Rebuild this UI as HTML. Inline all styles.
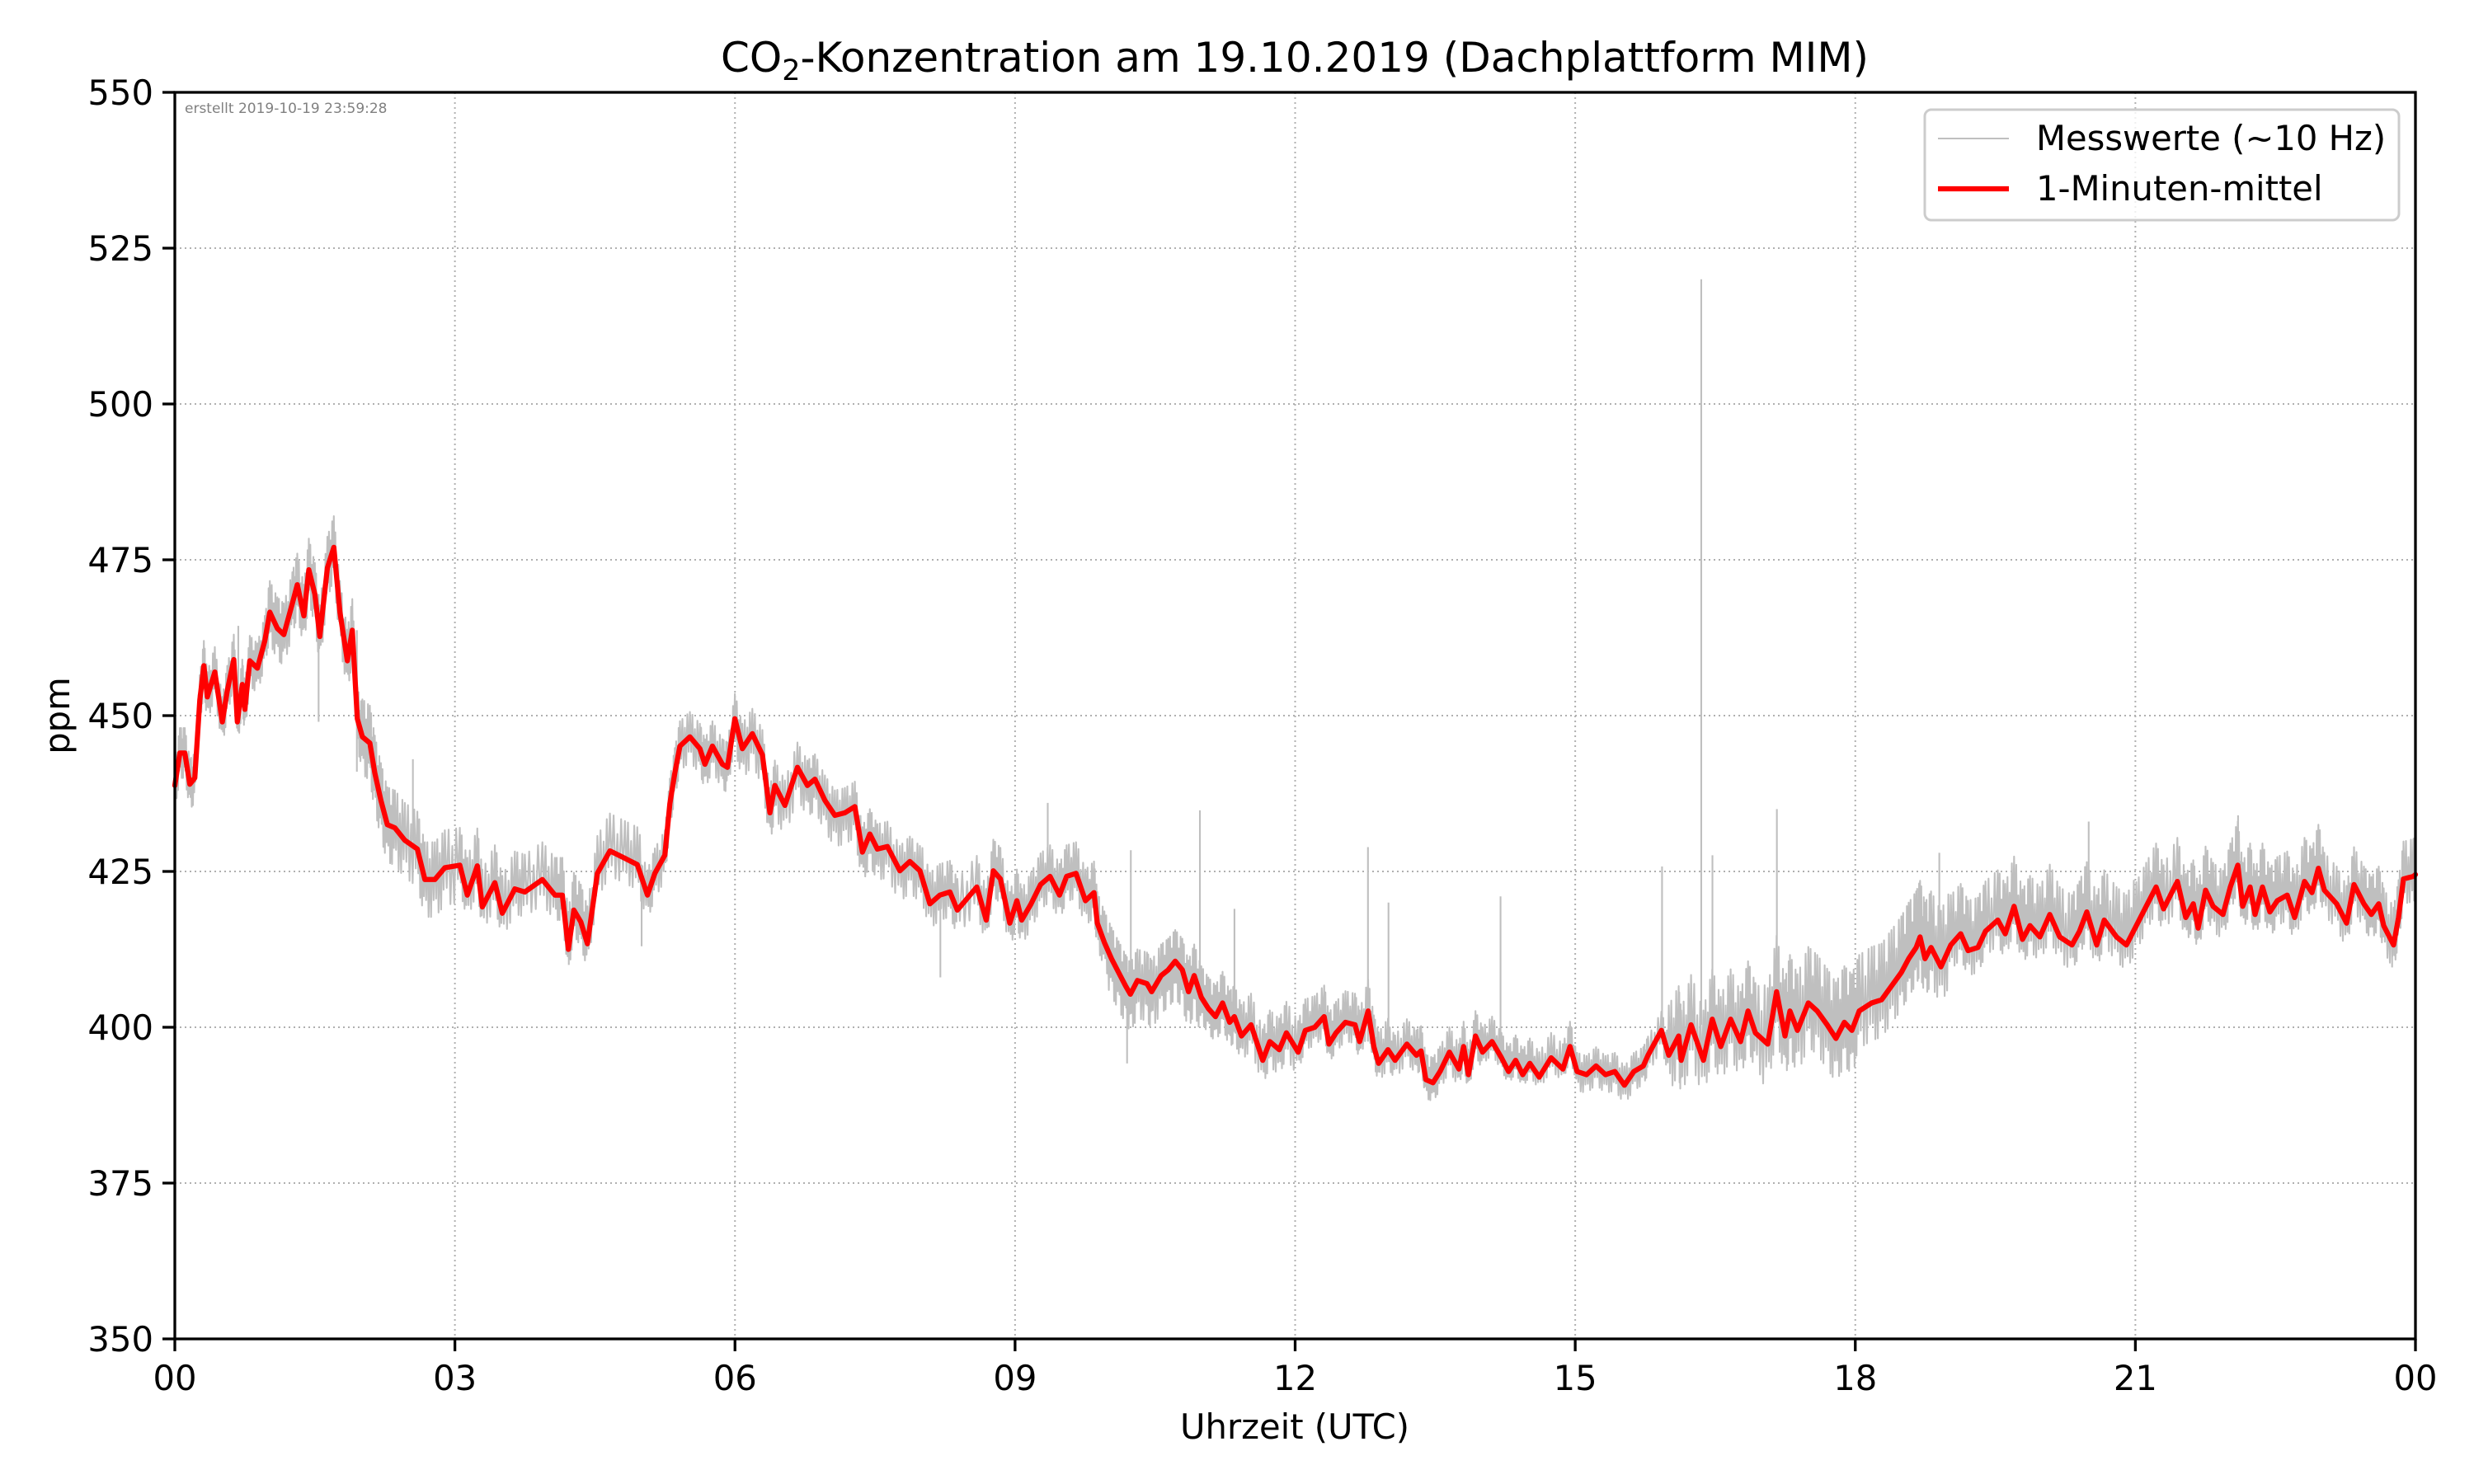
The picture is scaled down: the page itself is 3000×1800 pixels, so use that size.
<!DOCTYPE html>
<html><head><meta charset="utf-8">
<style>
html,body{margin:0;padding:0;background:#fff;}
svg{display:block;font-family:"DejaVu Sans","Liberation Sans",sans-serif;}
</style></head>
<body>
<svg id="chart" width="3000" height="1800" viewBox="0 0 3000 1800" xmlns="http://www.w3.org/2000/svg">
<rect x="0" y="0" width="3000" height="1800" fill="#fff"/>
<g id="grid"></g>
<g id="raw"></g>
<g id="mean"></g>
<g id="axes"></g>
<text x="224" y="137" font-size="17" fill="#808080">erstellt 2019-10-19 23:59:28</text>
<text x="1570" y="87" font-size="50" text-anchor="middle">CO<tspan font-size="35" dy="10">2</tspan><tspan dy="-10">-Konzentration am 19.10.2019 (Dachplattform MIM)</tspan></text>
<text x="1570" y="1745" font-size="41.7" text-anchor="middle">Uhrzeit (UTC)</text>
<text x="84" y="868" font-size="41.7" text-anchor="middle" transform="rotate(-90 84 868)">ppm</text>
<g>
<rect x="2334" y="133" width="575" height="134" rx="8" fill="#fff" fill-opacity="0.8" stroke="#cccccc" stroke-width="3"/>
<line x1="2350" y1="168" x2="2436" y2="168" stroke="#bfbfbf" stroke-width="2.1"/>
<text x="2469" y="182" font-size="41.7">Messwerte (~10 Hz)</text>
<line x1="2350" y1="229" x2="2436" y2="229" stroke="#ff0000" stroke-width="6.25"/>
<text x="2469" y="243" font-size="41.7">1-Minuten-mittel</text>
</g>
</svg>
<script>
const hours=[0,0.054,0.107,0.161,0.214,0.268,0.311,0.348,0.428,0.509,0.562,0.632,0.670,0.723,0.750,0.803,0.884,0.964,1.018,1.098,1.168,1.259,1.312,1.382,1.435,1.500,1.553,1.634,1.703,1.768,1.848,1.901,1.955,2.009,2.089,2.142,2.207,2.276,2.357,2.464,2.598,2.678,2.785,2.892,3.053,3.133,3.240,3.294,3.428,3.508,3.642,3.749,3.937,4.071,4.151,4.215,4.274,4.349,4.419,4.526,4.660,4.821,4.954,5.062,5.142,5.249,5.303,5.356,5.410,5.517,5.624,5.678,5.758,5.865,5.919,5.999,6.079,6.186,6.294,6.374,6.427,6.535,6.669,6.776,6.856,6.963,7.070,7.177,7.284,7.365,7.445,7.525,7.633,7.766,7.873,7.981,8.088,8.195,8.302,8.382,8.590,8.691,8.767,8.843,8.944,9.020,9.071,9.172,9.273,9.375,9.476,9.552,9.653,9.754,9.846,9.881,9.957,10.033,10.109,10.185,10.235,10.311,10.413,10.463,10.565,10.641,10.716,10.792,10.858,10.919,10.995,11.071,11.147,11.223,11.299,11.349,11.425,11.527,11.653,11.729,11.830,11.906,12.033,12.109,12.210,12.311,12.362,12.438,12.539,12.641,12.691,12.782,12.843,12.894,12.995,13.071,13.197,13.299,13.349,13.400,13.476,13.552,13.653,13.754,13.805,13.856,13.932,14.008,14.109,14.210,14.286,14.362,14.438,14.514,14.615,14.742,14.868,14.944,15.020,15.122,15.223,15.324,15.425,15.527,15.628,15.729,15.780,15.923,16.002,16.108,16.135,16.241,16.373,16.468,16.559,16.665,16.771,16.851,16.930,17.062,17.157,17.247,17.300,17.380,17.497,17.592,17.698,17.793,17.883,17.963,18.042,18.175,18.281,18.387,18.493,18.572,18.652,18.694,18.747,18.811,18.917,19.023,19.129,19.208,19.314,19.394,19.526,19.606,19.701,19.791,19.871,19.977,20.083,20.189,20.321,20.401,20.480,20.586,20.666,20.798,20.904,21.010,21.116,21.222,21.302,21.450,21.540,21.620,21.672,21.752,21.832,21.938,22.017,22.097,22.149,22.229,22.282,22.361,22.441,22.520,22.626,22.706,22.812,22.891,22.960,23.024,23.156,23.262,23.342,23.448,23.527,23.607,23.660,23.766,23.819,23.872,23.978,24.0];
const meanPpm=[438.8,444,444,439,440,452.5,458,453,457,449,454,459,449,455,451,458.8,457.6,462,466.6,464,463,468,471,466,473.4,469.5,462.7,473.7,477,466.6,458.8,463.7,449.5,446.6,445.6,440.8,436.4,432.5,432,430,428.6,423.7,423.7,425.6,426,421.2,425.9,419.3,423.2,418.3,422.2,421.7,423.7,421.2,421.2,412.5,418.8,416.9,413.4,424.7,428.3,427.1,426.1,421.2,424.7,427.6,435.9,440.8,445.1,446.6,444.7,442.2,445.1,442.2,441.7,449.5,444.7,447.1,443.7,434.4,438.8,435.6,441.7,438.8,439.8,436.4,434,434.4,435.4,428.1,431,428.6,429,425.1,426.6,425.1,419.8,421.2,421.7,418.8,422.5,417.2,425.1,423.8,416.7,420.3,417.2,419.8,422.9,424.2,421.2,424.2,424.7,420.3,421.6,416.7,413.6,411,408.8,406.6,405.3,407.5,407,405.7,408.3,409.2,410.6,409.2,405.7,408.3,404.8,403,401.7,403.9,400.8,401.7,398.6,400.4,394.7,397.7,396.4,399.1,396,399.5,400,401.7,397.3,399.1,400.8,400.4,397.7,402.6,396.9,394.2,396.4,394.7,397.3,395.5,396.2,391.6,391.1,392.9,396,393.3,396.9,392.4,398.6,396,397.7,395.1,392.9,394.7,392.4,394.2,392,395.1,393.3,396.9,392.9,392.4,393.8,392.4,392.9,390.7,392.9,393.8,395.5,399.5,395.5,398.6,394.7,400.4,394.7,401.3,396.9,401.3,397.7,402.6,399.1,397.3,405.7,398.6,402.6,399.5,403.9,402.6,400.4,398.2,400.8,399.5,402.6,403.9,404.4,406.6,408.8,411,412.8,414.5,411,412.8,409.7,413.2,415,412.3,412.8,415.4,417.2,415,419.4,414.1,416.3,414.5,418.1,414.5,413.2,415.4,418.5,413.2,417.2,414.5,413.2,416.3,419.4,422.5,419,423.4,417.6,419.8,415.9,422,419.4,418.1,422.5,426,419.4,422.5,418.1,422.5,418.5,420.3,421.2,417.6,423.4,421.6,425.5,422,419.8,416.7,422.9,419.8,418.1,419.8,416.3,413.2,417.6,423.8,424.2,424.5];
// hourly spread of raw measurements below / above the mean (ppm)
const spreadLow=[4,5,6,4,4,4,5,5,4,4,6,4,3,3,2,3,6,7,6,4,4,4,4,4];
const spreadHigh=[4,5,6,6,6,4,4,4,5,5,5,5,5,4,4,3,8,9,9,8,8,7,7,6];
// isolated raw spikes [hour, ppm]
const spikeHours=[0.68,1.54,1.95,2.55,4.22,5.0,6.02,8.2,9.35,10.24,10.20,10.98,11.35,12.78,13.0,14.2,15.93,16.35,16.47,17.16,18.9,20.5,22.1,23.75];
const spikeValues=[464.4,449,441,443,410,413,452,408,436,428.4,394.2,434.8,419,428.9,420,421,425.8,520,427.6,435,428,433,434,409.6];
const yTicks=[350,375,400,425,450,475,500,525,550];
const xTickHours=[0,3,6,9,12,15,18,21,24];
const xTickLabels=["00","03","06","09","12","15","18","21","00"];

const X0=212,X1=2929,Y0=112,Y1=1624;
const sx=h=>X0+(h/24)*(X1-X0);
const sy=v=>Y1-(v-350)/200*(Y1-Y0);
const NS="http://www.w3.org/2000/svg";
function mk(tag,attrs,parent){const e=document.createElementNS(NS,tag);for(const k in attrs)e.setAttribute(k,attrs[k]);parent.appendChild(e);return e;}
const grid=document.getElementById('grid'),axes=document.getElementById('axes'),raw=document.getElementById('raw'),mean=document.getElementById('mean');

yTicks.forEach(v=>{
  const y=sy(v);
  if(v>350&&v<550){const g=mk('line',{x1:X0,x2:X1,y1:y,y2:y,stroke:'#b0b0b0','stroke-width':2,'stroke-dasharray':'2,4'},grid);
  
  }
  const t=mk('line',{x1:X0-15,x2:X0,y1:y,y2:y,stroke:'#000','stroke-width':3.3},axes);
  
  
  const l=mk('text',{x:X0-26,y:y+15,'font-size':41.7,'text-anchor':'end'},axes);
  l.textContent=v;
  
  
});
xTickHours.forEach((h,i)=>{
  const x=sx(h);
  if(h>0&&h<24){const g=mk('line',{x1:x,x2:x,y1:Y0,y2:Y1,stroke:'#b0b0b0','stroke-width':2,'stroke-dasharray':'2,4'},grid);
  
  }
  const t=mk('line',{x1:x,x2:x,y1:Y1,y2:Y1+15,stroke:'#000','stroke-width':3.3},axes);
  
  
  const l=mk('text',{x:x,y:Y1+62,'font-size':41.7,'text-anchor':'middle'},axes);
  l.textContent=xTickLabels[i];
  
  
});
const frame=mk('rect',{x:X0,y:Y0,width:X1-X0,height:Y1-Y0,fill:'none',stroke:'#000','stroke-width':3.3},axes);



// raw band: zig-zag between mean-low and mean+high
let pts=[];
for(let i=0;i<hours.length-1;i++){
  const N=8;
  for(let k=0;k<N;k++){
    const f=k/N,h=hours[i]+(hours[i+1]-hours[i])*f,v=meanPpm[i]+(meanPpm[i+1]-meanPpm[i])*f;
    const b=Math.min(23,Math.floor(h));
    const alt=((i*N+k)%2===0)?spreadHigh[b]:-spreadLow[b];
    const amp=(k%3===1)?0.55:1;
    pts.push(sx(h).toFixed(1)+','+sy(v+alt*amp).toFixed(1));
  }
}
const rawLine=mk('polyline',{points:pts.join(' '),fill:'none',stroke:'#bfbfbf','stroke-width':2.1,'stroke-linejoin':'round'},raw);


spikeHours.forEach((h,i)=>{
  let j=0;while(j<hours.length-1&&hours[j+1]<h)j++;
  const base=meanPpm[j];
  const s=mk('line',{x1:sx(h),x2:sx(h),y1:sy(base),y2:sy(spikeValues[i]),stroke:'#bfbfbf','stroke-width':2.1},raw);
  
  
});
const mp=hours.map((h,i)=>sx(h).toFixed(1)+','+sy(meanPpm[i]).toFixed(1)).join(' ');
const ml=mk('polyline',{points:mp,fill:'none',stroke:'#ff0000','stroke-width':6.25,'stroke-linejoin':'round','stroke-linecap':'round'},mean);


</script>
</body></html>
